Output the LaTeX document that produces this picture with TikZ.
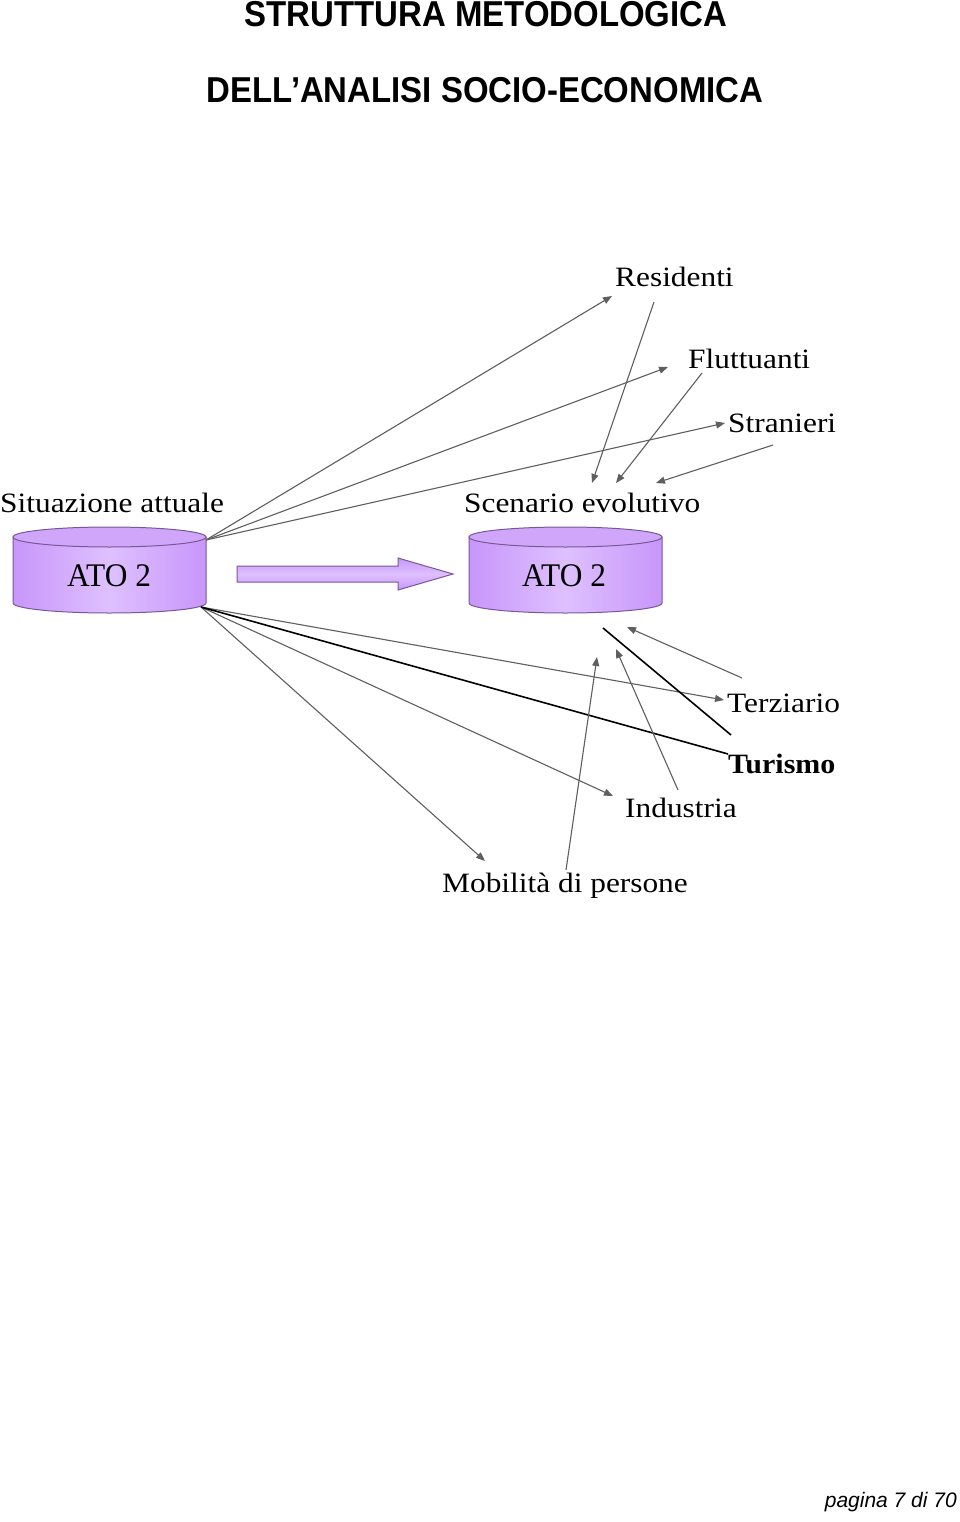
\documentclass[tikz,border=0pt]{standalone}
\usepackage{graphicx}
\usepackage{fontspec}
\setmainfont{Liberation Serif}
\newfontfamily\arialfont{Liberation Sans}
\usetikzlibrary{arrows.meta}
\definecolor{cylfill}{RGB}{200,150,250}
\definecolor{cyllight}{RGB}{222,192,255}
\definecolor{cylborder}{RGB}{120,88,150}
\definecolor{conncol}{RGB}{95,95,95}
\newcommand\wide[1]{\scalebox{1.12}[1]{#1}}
\begin{document}
\begin{tikzpicture}[x=1pt,y=-1pt,
  title/.style={anchor=base, inner sep=0pt, font=\arialfont\bfseries\fontsize{36}{36}\selectfont},
  lbl/.style={anchor=base west, inner sep=0pt, font=\fontsize{28}{28}\selectfont},
  atotext/.style={anchor=base, inner sep=0pt, font=\fontsize{33}{33}\selectfont},
  conn/.style={draw=conncol, line width=1.1pt, -{Triangle[length=9pt,width=7pt]}},
  blackline/.style={draw=black, line width=1.6pt},
  cylbody/.style={left color=cylfill, right color=cylfill, middle color=cyllight, draw=cylborder, line width=1pt},
  cyltop/.style={fill=cylfill!85!white, draw=cylborder, line width=1pt},
  bigarrow/.style={top color=cylfill, bottom color=cylfill, middle color=cyllight, draw=cylborder, line width=1pt}]
\useasboundingbox (0,0) rectangle (960,1522);
\fill[white] (0,0) rectangle (960,1522);

% titles
\node[title] (t1) at (486,26.5) {\scalebox{0.915}[1]{STRUTTURA METODOLOGICA}};
\node[title] (t2) at (485,103) {\scalebox{0.915}[1]{DELL’ANALISI SOCIO-ECONOMICA}};

% cylinder 1
\path[cylbody] (13,537) -- (13,603) arc[start angle=180,end angle=0,x radius=96.5,y radius=10] -- (206,537) -- cycle;
\path[cyltop] (109.5,537) ellipse[x radius=96.5,y radius=10];
% cylinder 2
\path[cylbody] (469,537) -- (469,603) arc[start angle=180,end angle=0,x radius=96.5,y radius=10] -- (662,537) -- cycle;
\path[cyltop] (565.5,537) ellipse[x radius=96.5,y radius=10];

\node[atotext] (ato1) at (109,586) {\scalebox{0.95}[1]{ATO 2}};
\node[atotext] (ato2) at (564,586) {\scalebox{0.95}[1]{ATO 2}};

% big arrow
\path[bigarrow] (237,566) -- (398,566) -- (398,558) -- (453,574) -- (398,590) -- (398,582) -- (237,582) -- cycle;

% labels
\node[lbl] (sit) at (0,512) {\wide{Situazione attuale}};
\node[lbl] (scen) at (464,512) {\wide{Scenario evolutivo}};
\node[lbl] (res) at (615,287) {\wide{Residenti}};
\node[lbl] (flu) at (688,368) {\wide{Fluttuanti}};
\node[lbl] (str) at (728,432) {\wide{Stranieri}};
\node[lbl] (ter) at (727,712) {\wide{Terziario}};
\node[lbl, font=\bfseries\fontsize{28}{28}\selectfont] (tur) at (728,773) {\scalebox{1.07}[1]{Turismo}};
\node[lbl] (ind) at (625,817) {\wide{Industria}};
\node[lbl] (mob) at (442,892) {\wide{Mobilità di persone}};
\node[anchor=base east, inner sep=0pt, font=\arialfont\itshape\fontsize{21}{21}\selectfont] (pag) at (957,1507) {pagina 7 di 70};

% connector end points
\coordinate (s1) at (206,540);
\coordinate (s2) at (201,607);
\coordinate (resin) at (612,296);
\coordinate (fluin) at (668,367);
\coordinate (strin) at (725,423);
\coordinate (resout) at (654,302);
\coordinate (fluout) at (702,373);
\coordinate (strout) at (773,445);
\coordinate (scenA) at (592,483);
\coordinate (scenB) at (616,483);
\coordinate (scenC) at (656,483);
\coordinate (terin) at (724,700);
\coordinate (indin) at (613,796);
\coordinate (mobin) at (485,861);
\coordinate (turin) at (728,754);
\coordinate (terout) at (742,678);
\coordinate (indout) at (678,790);
\coordinate (mobout) at (566,870);
\coordinate (turout) at (731,735);
\coordinate (evoA) at (627,627);
\coordinate (evoB) at (616,649);
\coordinate (evoC) at (597,657);
\coordinate (evoD) at (603,628);

% connectors upper
\draw[conn] (s1) -- (resin);
\draw[conn] (s1) -- (fluin);
\draw[conn] (s1) -- (strin);
\draw[conn] (resout) -- (scenA);
\draw[conn] (fluout) -- (scenB);
\draw[conn] (strout) -- (scenC);
% connectors lower
\draw[conn] (s2) -- (terin);
\draw[conn] (s2) -- (indin);
\draw[conn] (s2) -- (mobin);
\draw[blackline] (s2) -- (turin);
\draw[conn] (terout) -- (evoA);
\draw[conn] (indout) -- (evoB);
\draw[conn] (mobout) -- (evoC);
\draw[blackline] (turout) -- (evoD);
\end{tikzpicture}
\end{document}
